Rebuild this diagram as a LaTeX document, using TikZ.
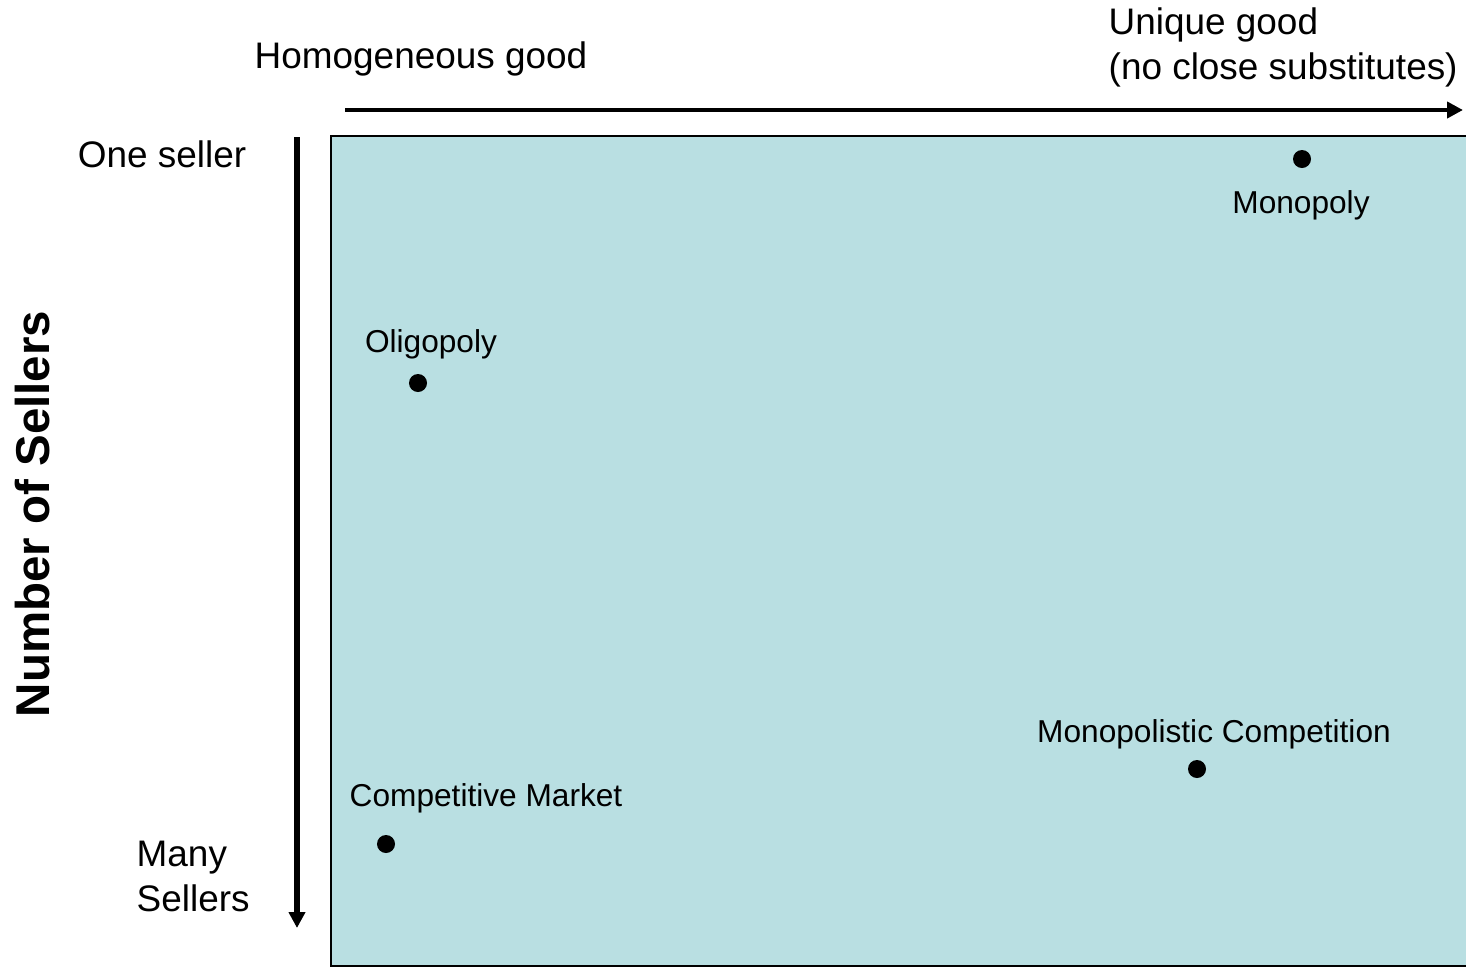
\documentclass[tikz,border=0pt]{standalone}
\usepackage{fontspec}
\setmainfont{Liberation Sans}
\usepackage{tikz}
\usetikzlibrary{positioning,arrows.meta}
\usepackage{xcolor}
\definecolor{marketbg}{RGB}{185,223,226}

\begin{document}
\begin{tikzpicture}[
  x=0.01cm, y=-0.01cm,
  axis/.style={line width=1.4pt, -{Triangle[length=0.16cm, width=0.16cm]}},
  dot/.style={circle, fill=black, inner sep=0pt, minimum size=0.18cm},
  lbl/.style={font=\fontsize{9}{11}\selectfont, inner sep=0pt},
  side/.style={font=\fontsize{10.5}{12.8}\selectfont, inner sep=0pt, align=left},
  ]
  \useasboundingbox (0,0) rectangle (1466,969);

  % the market plane
  \draw[fill=marketbg, line width=0.6pt] (331,136) rectangle (1475,966);

  % axes
  \coordinate (xstart) at (345,110);
  \coordinate (xend) at (1463,110);
  \coordinate (ystart) at (297,137);
  \coordinate (yend) at (297,928);
  \draw[axis] (xstart) -- (xend);
  \draw[axis, line width=1.6pt] (ystart) -- (yend);

  % axis texts
  \node[side] (homog) at (421,59) {Homogeneous good};
  \node[side, anchor=west] (unique) at (1108,47) {Unique good\\(no close substitutes)};
  \node[side] (oneseller) at (162,154) {One seller};
  \node[side, anchor=west] (many) at (136,876) {Many\\Sellers};
  \node[font=\fontsize{13.5}{16}\selectfont\bfseries, rotate=90] (nsell) at (33,514) {Number of Sellers};

  % market types
  \node[dot] (mono) at (1302,159) {};
  \node[lbl] (monolbl) at (1301,205) {Monopoly};
  \node[dot] (oligo) at (418,383) {};
  \node[lbl] (oligolbl) at (431,344) {Oligopoly};
  \node[dot] (comp) at (386,844) {};
  \node[lbl, anchor=west] (complbl) at (349,798) {Competitive Market};
  \node[dot] (monocomp) at (1197,769) {};
  \node[lbl] (monocomplbl) at (1214,734) {Monopolistic Competition};
\end{tikzpicture}
\end{document}
